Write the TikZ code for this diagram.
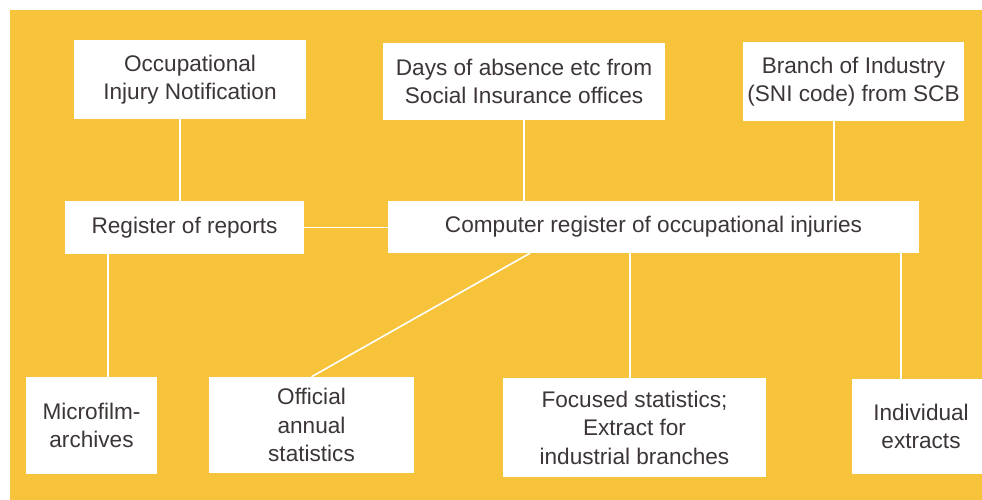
\documentclass[tikz,border=0pt]{standalone}
\usepackage{fontspec}
\setmainfont{Liberation Sans}
\definecolor{bgyellow}{HTML}{F6C33A}
\definecolor{txtgray}{HTML}{3C3636}
\begin{document}
\begin{tikzpicture}[x=1pt,y=-1pt,
  box/.style={fill=white, draw=none, inner sep=0pt, align=center,
    text=txtgray, font=\fontsize{22.6}{28.5}\selectfont},
  link/.style={draw=white, line width=1.6pt}]
\useasboundingbox (0,0) rectangle (982,500);
\clip (0,0) rectangle (982,500);
\fill[white] (0,0) rectangle (982,500);
\fill[bgyellow] (10,10) rectangle (982,500);
% top row
\node[box, minimum width=232pt, minimum height=79pt] (occ) at (190,79.5) {Occupational\\Injury Notification};
\node[box, minimum width=282pt, minimum height=77pt] (days) at (524,81.5) {Days of absence etc from\\Social Insurance offices};
\node[box, minimum width=221pt, minimum height=79pt] (branch) at (853.5,81.5) {Branch of Industry\\(SNI code) from SCB};
% middle row
\node[box, minimum width=239pt, minimum height=53pt] (reg) at (184.5,227.5) {Register of reports};
\node[box, minimum width=531pt, minimum height=52pt] (comp) at (653.5,227) {Computer register of occupational injuries};
% bottom row
\node[box, minimum width=131pt, minimum height=97pt] (micro) at (91.5,425.5) {Microfilm-\\archives};
\node[box, minimum width=205pt, minimum height=96pt] (off) at (311.5,425) {Official\\annual\\statistics};
\node[box, minimum width=263pt, minimum height=99pt] (foc) at (634.5,427.5) {Focused statistics;\\Extract for\\industrial branches};
\node[box, minimum width=138pt, minimum height=95pt] (ind) at (921,426.5) {Individual\\extracts};
% connectors
\draw[link] ([xshift=-10pt]occ.south) -- ([xshift=-10pt]occ.south |- reg.north);
\draw[link] (days.south) -- (days.south |- comp.north);
\draw[link] ([xshift=-19.5pt]branch.south) -- ([xshift=-19.5pt]branch.south |- comp.north);
\draw[link] (reg.east) -- (reg.east -| comp.west);
\draw[link] ([xshift=-76.5pt]reg.south) -- ([xshift=-76.5pt]reg.south |- micro.north);
\draw[link] ([xshift=-123.5pt]comp.south) -- (off.north);
\draw[link] ([xshift=-4.5pt]foc.north) -- ([xshift=-4.5pt]foc.north |- comp.south);
\draw[link] ([xshift=-20pt]ind.north) -- ([xshift=-20pt]ind.north |- comp.south);
\end{tikzpicture}
\end{document}
